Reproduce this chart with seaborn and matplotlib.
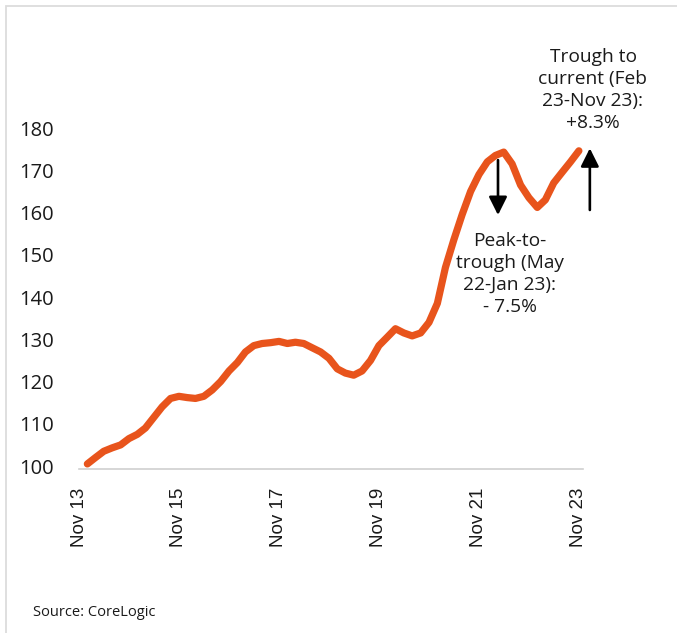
import numpy as np
import pandas as pd
import seaborn as sns
import matplotlib
matplotlib.use('Agg')
import matplotlib.pyplot as plt
import matplotlib.patches as mpatches

# index values, every second month
start = '2014-01-01'
values = [100.5, 102.0, 103.5, 104.3, 105.0, 106.5,
          107.5, 109.0, 111.5, 114.0, 116.0, 116.5,
          116.2, 116.0, 116.5, 118.0, 120.0, 122.5,
          124.5, 127.0, 128.5, 129.0, 129.2, 129.5,
          129.0, 129.3, 129.0, 128.0, 127.0, 125.5,
          123.0, 122.0, 121.5, 122.5, 125.0, 128.5,
          130.5, 132.5, 131.5, 130.8, 131.5, 134.0,
          138.5, 147.0, 153.5, 159.5, 165.0, 169.0,
          172.0, 173.5, 174.3, 171.5, 166.5, 163.5,
          161.2, 163.0, 167.0, 169.5, 172.0, 174.6]
dates = pd.date_range(start, periods=len(values), freq='2MS')
df = pd.DataFrame({'date': dates, 'value': values})

y_ticks = [100, 110, 120, 130, 140, 150, 160, 170, 180]
x_ticks = pd.to_datetime(['2013-11-01', '2015-11-01', '2017-11-01',
                          '2019-11-01', '2021-11-01', '2023-11-01'])
x_labels = ['Nov 13', 'Nov 15', 'Nov 17', 'Nov 19', 'Nov 21', 'Nov 23']

note_down = 'Peak-to-\ntrough (May\n22-Jan 23):\n- 7.5%'
note_up = 'Trough to\ncurrent (Feb\n23-Nov 23):\n+8.3%'

sns.set_style('white')
plt.rcParams['font.family'] = ['Open Sans', 'DejaVu Sans']

W, H = 677, 633
fig = plt.figure(figsize=(W / 100, H / 100), dpi=100)
ax = fig.add_axes([79 / W, 1 - 469 / H, 504 / W, 341 / H])

sns.lineplot(data=df, x='date', y='value', ax=ax, color='#E8541C',
             linewidth=5.2, solid_capstyle='round', solid_joinstyle='round')

ax.set_xlim(pd.Timestamp('2013-11-01'), pd.Timestamp('2023-12-01'))
ax.set_ylim(99.3, 180)
ax.set_yticks(y_ticks)
ax.set_yticklabels([str(v) for v in y_ticks], fontsize=14.5, color='#1a1a1a')
ax.set_xticks(x_ticks)
ax.set_xticklabels(x_labels, rotation=90, fontsize=13.5,
                   family=['Liberation Sans'], color='#1a1a1a')
ax.set_xlabel('')
ax.set_ylabel('')
ax.tick_params(axis='y', length=0, pad=18)
ax.tick_params(axis='x', length=4.5, width=1.1, color='#d0d0d0', pad=9)
for s in ['top', 'right', 'left']:
    ax.spines[s].set_visible(False)
ax.spines['bottom'].set_color('#d0d0d0')
ax.spines['bottom'].set_linewidth(1.2)

# arrows
arrow = dict(arrowstyle='-|>,head_length=1.1,head_width=0.55',
             color='black', lw=1.9, shrinkA=0, shrinkB=0)
ax.annotate('', xy=(pd.Timestamp('2022-03-20'), 159.4),
            xytext=(pd.Timestamp('2022-03-20'), 172.4),
            arrowprops=arrow, annotation_clip=False)
ax.annotate('', xy=(pd.Timestamp('2024-01-20'), 175.2),
            xytext=(pd.Timestamp('2024-01-20'), 160.6),
            arrowprops=arrow, annotation_clip=False)

fig.text(593 / W, 1 - 90 / H, note_up, ha='center', va='center',
         multialignment='center', fontsize=13.8, linespacing=1.3, color='#1a1a1a')
fig.text(510 / W, 1 - 274 / H, note_down, ha='center', va='center',
         multialignment='center', fontsize=13.8, linespacing=1.3, color='#1a1a1a')
fig.text(33 / W, 1 - 612 / H, 'Source: CoreLogic', ha='left', va='center',
         fontsize=10.5, color='#1a1a1a')

# light frame round the panel
fig.patches.append(mpatches.Rectangle((6 / W, -0.1), 1.2, 1.1 - 6 / H,
                                      transform=fig.transFigure, fill=False,
                                      edgecolor='#dcdcdc', linewidth=1.3))

fig.savefig('out.png', dpi=100)
